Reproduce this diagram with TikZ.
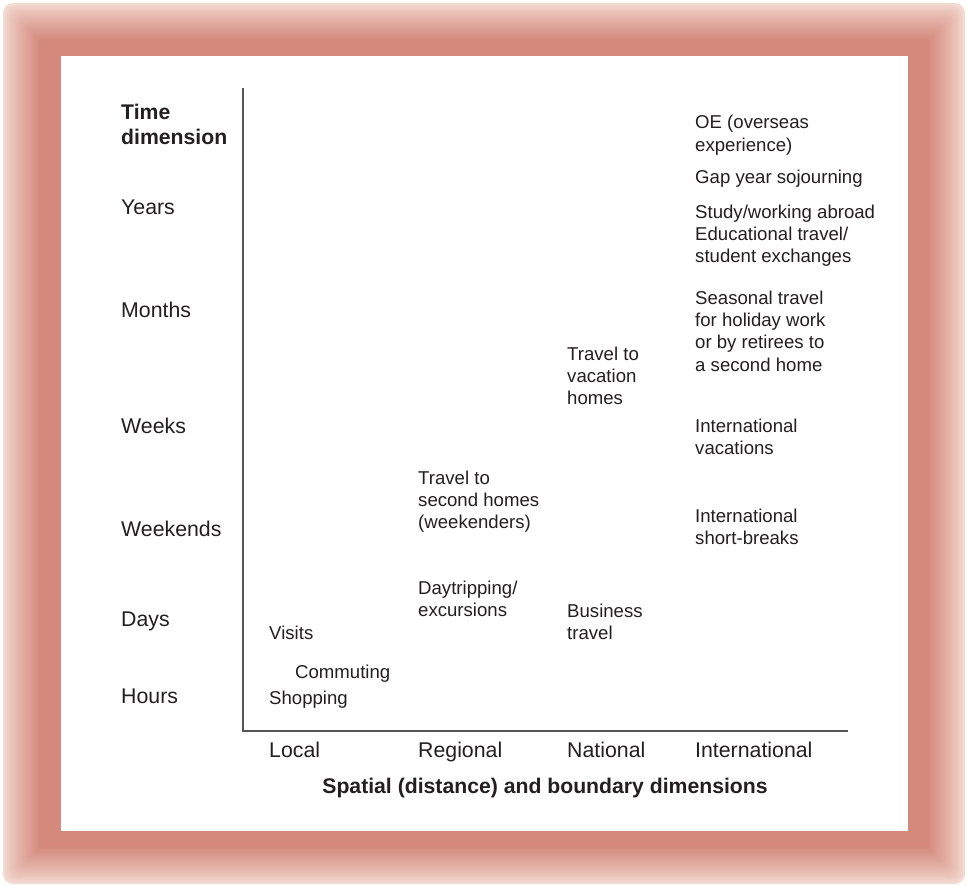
\documentclass[tikz,border=0pt]{standalone}
\usepackage{fontspec}
\setmainfont{Liberation Sans}
\definecolor{framedeep}{HTML}{D4897C}
\definecolor{framepale}{HTML}{F4DCD3}
\definecolor{inktext}{HTML}{231F20}
\definecolor{axisgray}{HTML}{555555}
\tikzset{
  lbl/.style={anchor=base west, inner sep=0pt, align=left, text=inktext,
    font=\fontsize{18.6}{22.4}\selectfont},
  axlbl/.style={anchor=base west, inner sep=0pt, text=inktext,
    font=\fontsize{21.3}{25}\selectfont},
  head/.style={anchor=base west, inner sep=0pt, align=left, text=inktext,
    font=\bfseries\fontsize{21.2}{25}\selectfont},
  axisline/.style={draw=axisgray, line width=1.8pt}
}
\begin{document}
\begin{tikzpicture}[x=1pt,y=-1pt]
\useasboundingbox (0,0) rectangle (968,885);
\fill[white] (0,0) rectangle (968,885);
% soft coloured frame, pale at the rim and deepening inwards
\foreach \i in {0,...,20}{
  \pgfmathsetmacro{\p}{100*(\i/20)^0.8}
  \pgfmathsetmacro{\d}{1.85*\i}
  \pgfmathsetmacro{\r}{max(1,10-0.45*\i)}
  \fill[framedeep!\p!framepale, rounded corners=\r pt]
    (3+\d,3+\d) rectangle (965-\d,884-\d);
}
% white panel
\fill[white] (61,56) rectangle (908,831);

% axes
\coordinate (ytop) at (243,88);
\coordinate (orig) at (243,731);
\coordinate (xend) at (848,731);
\draw[axisline] (ytop) -- (orig) -- (xend);

% time dimension labels (multi-line nodes sit on their last baseline)
\node[head] (ttl) at (121,145) {Time\\dimension};
\node[axlbl] (yrs) at (121,214.5) {Years};
\node[axlbl] (mon) at (121,317.5) {Months};
\node[axlbl] (wks) at (121,433.5) {Weeks};
\node[axlbl] (wke) at (121,536.5) {Weekends};
\node[axlbl] (dys) at (121,626.5) {Days};
\node[axlbl] (hrs) at (121,703.5) {Hours};

% spatial dimension labels
\node[axlbl] (loc) at (269,757.5) {Local};
\node[axlbl] (reg) at (418,757.5) {Regional};
\node[axlbl] (nat) at (567,757.5) {National};
\node[axlbl] (int) at (695,757.5) {International};
\node[head, anchor=base] (stl) at (545,793) {Spatial (distance) and boundary dimensions};

% local
\node[lbl] (vis) at (269,639) {Visits};
\node[lbl] (com) at (295,678) {Commuting};
\node[lbl] (shp) at (269,704) {Shopping};

% regional
\node[lbl] (sec) at (418,528.8) {Travel to\\second homes\\(weekenders)};
\node[lbl] (day) at (418,616.4) {Daytripping/\\excursions};

% national
\node[lbl] (vac) at (567,404.8) {Travel to\\vacation\\homes};
\node[lbl] (bus) at (567,639.4) {Business\\travel};

% international
\node[lbl] (oe)  at (695,151.4) {OE (overseas\\experience)};
\node[lbl] (gap) at (695,184) {Gap year sojourning};
\node[lbl] (stu) at (695,262.8) {Study/working abroad\\Educational travel/\\student exchanges};
\node[lbl] (sea) at (695,371.2) {Seasonal travel\\for holiday work\\or by retirees to\\a second home};
\node[lbl] (ivc) at (695,454.4) {International\\vacations};
\node[lbl] (isb) at (695,544.4) {International\\short-breaks};
\end{tikzpicture}
\end{document}
